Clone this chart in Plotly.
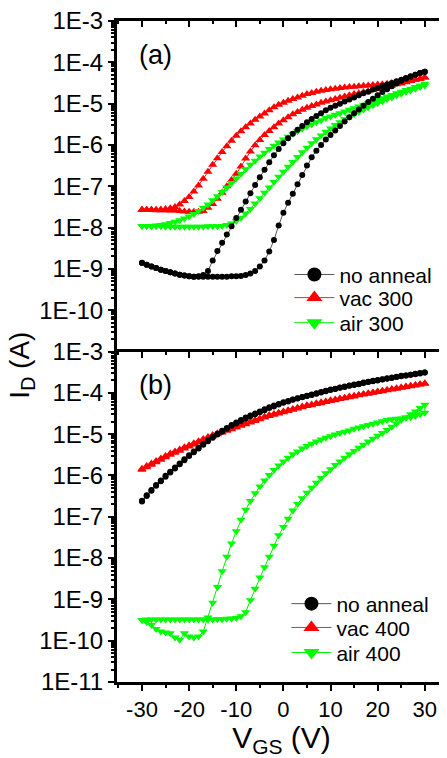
import numpy as np
import plotly.graph_objects as go

# Gate voltage sweep (V): forward -30 -> 30, then reverse 30 -> -30
VGS_FWD = [-30, -29, -28, -27, -26, -25, -24, -23, -22, -21,
           -20, -19, -18, -17, -16, -15, -14, -13, -12, -11,
           -10, -9, -8, -7, -6, -5, -4, -3, -2, -1,
           0, 1, 2, 3, 4, 5, 6, 7, 8, 9,
           10, 11, 12, 13, 14, 15, 16, 17, 18, 19,
           20, 21, 22, 23, 24, 25, 26, 27, 28, 29,
           30]
VGS_REV = VGS_FWD[::-1]

# log10(I_D / A)
# ---- panel (a) ----
A_NOANNEAL_FWD = [-8.85, -8.90, -8.94, -8.98, -9.02, -9.05, -9.08, -9.11, -9.14, -9.16,
                  -9.18, -9.19, -9.19, -9.19, -9.19, -9.19, -9.19, -9.19, -9.19, -9.18,
                  -9.18, -9.17, -9.15, -9.11, -9.05, -8.94, -8.80, -8.58, -8.30, -7.95,
                  -7.64, -7.40, -7.18, -6.95, -6.73, -6.50, -6.30, -6.14, -6.00, -5.87,
                  -5.76, -5.65, -5.54, -5.43, -5.33, -5.23, -5.14, -5.05, -4.96, -4.88,
                  -4.80, -4.72, -4.65, -4.58, -4.51, -4.45, -4.40, -4.35, -4.30, -4.26,
                  -4.23]
A_NOANNEAL_REV = [-4.23, -4.26, -4.30, -4.34, -4.38, -4.42, -4.46, -4.50, -4.54, -4.58,
                  -4.62, -4.66, -4.71, -4.75, -4.80, -4.85, -4.90, -4.95, -5.00, -5.05,
                  -5.10, -5.16, -5.23, -5.30, -5.37, -5.45, -5.54, -5.63, -5.73, -5.84,
                  -5.96, -6.10, -6.25, -6.42, -6.60, -6.78, -6.97, -7.17, -7.37, -7.57,
                  -7.77, -7.97, -8.17, -8.37, -8.57, -8.80, -9.05, -9.15, -9.18, -9.19,
                  -9.18, -9.16, -9.14, -9.11, -9.08, -9.05, -9.02, -8.98, -8.94, -8.90,
                  -8.86]
A_VAC300_FWD = [-7.57, -7.57, -7.57, -7.58, -7.58, -7.58, -7.59, -7.59, -7.60, -7.61,
                -7.62, -7.62, -7.62, -7.60, -7.52, -7.43, -7.30, -7.16, -7.00, -6.85,
                -6.70, -6.52, -6.33, -6.16, -6.01, -5.88, -5.76, -5.66, -5.57, -5.48,
                -5.40, -5.33, -5.26, -5.20, -5.15, -5.10, -5.06, -5.02, -4.98, -4.95,
                -4.92, -4.89, -4.86, -4.83, -4.80, -4.77, -4.75, -4.72, -4.70, -4.67,
                -4.64, -4.62, -4.59, -4.56, -4.53, -4.51, -4.48, -4.45, -4.42, -4.40,
                -4.37]
A_VAC300_REV = [-4.37, -4.40, -4.42, -4.44, -4.46, -4.48, -4.49, -4.50, -4.52, -4.53,
                -4.54, -4.55, -4.56, -4.57, -4.58, -4.59, -4.60, -4.61, -4.62, -4.64,
                -4.65, -4.67, -4.69, -4.71, -4.74, -4.77, -4.81, -4.85, -4.89, -4.93,
                -4.98, -5.03, -5.09, -5.16, -5.24, -5.31, -5.39, -5.48, -5.57, -5.67,
                -5.78, -5.90, -6.03, -6.17, -6.32, -6.48, -6.65, -6.82, -6.98, -7.13,
                -7.26, -7.36, -7.44, -7.50, -7.53, -7.55, -7.56, -7.57, -7.57, -7.57,
                -7.57]
A_AIR300_FWD = [-7.96, -7.96, -7.97, -7.97, -7.97, -7.98, -7.98, -7.98, -7.98, -7.98,
                -7.98, -7.98, -7.98, -7.98, -7.97, -7.97, -7.97, -7.96, -7.94, -7.90,
                -7.84, -7.76, -7.66, -7.55, -7.42, -7.29, -7.16, -7.03, -6.90, -6.77,
                -6.65, -6.53, -6.41, -6.29, -6.18, -6.07, -5.96, -5.86, -5.77, -5.68,
                -5.60, -5.52, -5.45, -5.38, -5.32, -5.26, -5.20, -5.14, -5.09, -5.04,
                -4.99, -4.94, -4.89, -4.85, -4.80, -4.76, -4.72, -4.68, -4.64, -4.60,
                -4.56]
A_AIR300_REV = [-4.52, -4.56, -4.60, -4.64, -4.67, -4.71, -4.75, -4.79, -4.83, -4.87,
                -4.91, -4.95, -4.99, -5.03, -5.07, -5.11, -5.15, -5.19, -5.23, -5.27,
                -5.31, -5.35, -5.40, -5.45, -5.50, -5.55, -5.61, -5.67, -5.73, -5.80,
                -5.87, -5.94, -6.02, -6.10, -6.19, -6.28, -6.38, -6.48, -6.59, -6.70,
                -6.81, -6.92, -7.03, -7.14, -7.24, -7.34, -7.44, -7.52, -7.60, -7.67,
                -7.73, -7.78, -7.82, -7.86, -7.89, -7.92, -7.94, -7.95, -7.96, -7.96,
                -7.96]
# ---- panel (b) ----
B_NOANNEAL_FWD = [-6.63, -6.50, -6.37, -6.25, -6.14, -6.03, -5.93, -5.83, -5.73, -5.63,
                  -5.53, -5.44, -5.35, -5.26, -5.17, -5.09, -5.01, -4.94, -4.87, -4.80,
                  -4.74, -4.68, -4.62, -4.57, -4.52, -4.47, -4.42, -4.37, -4.33, -4.28,
                  -4.24, -4.21, -4.17, -4.14, -4.11, -4.08, -4.05, -4.02, -3.99, -3.96,
                  -3.93, -3.91, -3.88, -3.86, -3.83, -3.81, -3.79, -3.76, -3.74, -3.72,
                  -3.70, -3.68, -3.66, -3.64, -3.62, -3.60, -3.58, -3.56, -3.55, -3.53,
                  -3.51]
B_NOANNEAL_REV = [-3.51, -3.52, -3.54, -3.56, -3.58, -3.59, -3.61, -3.63, -3.65, -3.67,
                  -3.69, -3.71, -3.73, -3.75, -3.78, -3.80, -3.82, -3.85, -3.87, -3.90,
                  -3.92, -3.95, -3.98, -4.01, -4.04, -4.07, -4.10, -4.13, -4.16, -4.20,
                  -4.23, -4.27, -4.31, -4.35, -4.40, -4.45, -4.50, -4.55, -4.60, -4.66,
                  -4.72, -4.78, -4.85, -4.92, -4.99, -5.07, -5.15, -5.24, -5.33, -5.42,
                  -5.51, -5.61, -5.71, -5.81, -5.91, -6.01, -6.12, -6.23, -6.35, -6.48,
                  -6.61]
B_VAC400_FWD = [-5.86, -5.80, -5.74, -5.68, -5.62, -5.56, -5.50, -5.45, -5.40, -5.35,
                -5.30, -5.25, -5.20, -5.15, -5.10, -5.05, -5.00, -4.96, -4.92, -4.88,
                -4.84, -4.80, -4.76, -4.72, -4.68, -4.64, -4.60, -4.56, -4.53, -4.50,
                -4.47, -4.44, -4.41, -4.38, -4.35, -4.32, -4.30, -4.27, -4.25, -4.22,
                -4.20, -4.18, -4.15, -4.13, -4.11, -4.09, -4.06, -4.04, -4.02, -4.00,
                -3.98, -3.96, -3.94, -3.92, -3.90, -3.88, -3.86, -3.84, -3.82, -3.80,
                -3.78]
B_VAC400_REV = [-3.77, -3.79, -3.81, -3.83, -3.85, -3.87, -3.89, -3.91, -3.93, -3.95,
                -3.97, -3.99, -4.01, -4.03, -4.05, -4.07, -4.09, -4.12, -4.14, -4.16,
                -4.18, -4.21, -4.23, -4.25, -4.28, -4.30, -4.33, -4.36, -4.39, -4.42,
                -4.45, -4.48, -4.51, -4.54, -4.58, -4.62, -4.66, -4.70, -4.74, -4.78,
                -4.82, -4.86, -4.90, -4.94, -4.98, -5.02, -5.07, -5.12, -5.17, -5.22,
                -5.27, -5.32, -5.37, -5.42, -5.47, -5.53, -5.59, -5.65, -5.71, -5.77,
                -5.84]
B_AIR400_FWD = [-9.50, -9.49, -9.49, -9.49, -9.49, -9.49, -9.49, -9.49, -9.49, -9.49,
                -9.49, -9.49, -9.49, -9.49, -9.49, -9.49, -9.48, -9.48, -9.47, -9.46,
                -9.45, -9.41, -9.31, -9.02, -8.74, -8.47, -8.22, -7.97, -7.70, -7.45,
                -7.25, -7.05, -6.85, -6.69, -6.55, -6.42, -6.30, -6.18, -6.06, -5.95,
                -5.85, -5.75, -5.66, -5.57, -5.49, -5.41, -5.33, -5.26, -5.18, -5.11,
                -5.04, -4.97, -4.90, -4.82, -4.74, -4.66, -4.59, -4.52, -4.45, -4.37,
                -4.29]
B_AIR400_REV = [-4.48, -4.52, -4.56, -4.59, -4.61, -4.62, -4.63, -4.64, -4.66, -4.69,
                -4.72, -4.75, -4.78, -4.81, -4.84, -4.87, -4.91, -4.94, -4.97, -5.01,
                -5.05, -5.09, -5.13, -5.18, -5.23, -5.29, -5.35, -5.42, -5.49, -5.57,
                -5.66, -5.76, -5.87, -5.99, -6.12, -6.27, -6.43, -6.62, -6.83, -7.07,
                -7.35, -7.65, -7.97, -8.32, -8.70, -9.08, -9.44, -9.78, -9.90, -9.92,
                -9.90, -9.82, -9.98, -9.92, -9.82, -9.80, -9.78, -9.72, -9.62, -9.55,
                -9.50]

LEGEND_A = ["no anneal", "vac 300", "air 300"]
LEGEND_B = ["no anneal", "vac 400", "air 400"]

X_TICKS = [-30, -20, -10, 0, 10, 20, 30]
X_TICKTEXT = ["-30", "-20", "-10", "0", "10", "20", "30"]
X_MINOR = [-35, -25, -15, -5, 5, 15, 25]
Y_TICKS_A = [1e-3, 1e-4, 1e-5, 1e-6, 1e-7, 1e-8, 1e-9, 1e-10]
Y_TEXT_A = ["1E-3", "1E-4", "1E-5", "1E-6", "1E-7", "1E-8", "1E-9", "1E-10"]
Y_TICKS_B = [1e-3, 1e-4, 1e-5, 1e-6, 1e-7, 1e-8, 1e-9, 1e-10, 1e-11]
Y_TEXT_B = ["1E-3", "1E-4", "1E-5", "1E-6", "1E-7", "1E-8", "1E-9", "1E-10", "1E-11"]

for arr in [A_NOANNEAL_FWD, A_NOANNEAL_REV, A_VAC300_FWD, A_VAC300_REV, A_AIR300_FWD,
            A_AIR300_REV, B_NOANNEAL_FWD, B_NOANNEAL_REV, B_VAC400_FWD, B_VAC400_REV,
            B_AIR400_FWD, B_AIR400_REV]:
    assert len(arr) == 61

BLACK, RED, GREEN = "#000000", "#ff0000", "#00ff00"
STYLES = {
    "black": dict(color=BLACK, line="#555555", symbol="circle", size=6),
    "red": dict(color=RED, line="#ff2020", symbol="triangle-up", size=8),
    "green": dict(color=GREEN, line="#00ee00", symbol="triangle-down", size=8),
}

fig = go.Figure()


def add_series(fwd, rev, style, xa, ya):
    st = STYLES[style]
    fig.add_trace(go.Scatter(
        x=VGS_FWD + VGS_REV, y=np.power(10.0, np.array(fwd + rev)),
        mode="lines+markers", showlegend=False, hoverinfo="skip",
        line=dict(color=st["line"], width=1),
        marker=dict(symbol=st["symbol"], color=st["color"], size=st["size"], line=dict(width=0)),
        xaxis=xa, yaxis=ya))


add_series(A_VAC300_FWD, A_VAC300_REV, "red", "x", "y")
add_series(A_AIR300_FWD, A_AIR300_REV, "green", "x", "y")
add_series(A_NOANNEAL_FWD, A_NOANNEAL_REV, "black", "x", "y")
add_series(B_VAC400_FWD, B_VAC400_REV, "red", "x2", "y2")
add_series(B_AIR400_FWD, B_AIR400_REV, "green", "x2", "y2")
add_series(B_NOANNEAL_FWD, B_NOANNEAL_REV, "black", "x2", "y2")

# legend entries: one legend box per entry so each row can be placed exactly
LEG_Y = [0.616, 0.581, 0.543, 0.118, 0.082, 0.044]
LEG_X = [0.524, 0.524, 0.524, 0.515, 0.515, 0.515]
legend_layout = {}
entries = [(n, s, "x", "y") for n, s in zip(LEGEND_A, ["black", "red", "green"])] + \
          [(n, s, "x2", "y2") for n, s in zip(LEGEND_B, ["black", "red", "green"])]
for i, (name, style, xa, ya) in enumerate(entries):
    key = "legend" if i == 0 else "legend%d" % (i + 1)
    st = STYLES[style]
    fig.add_trace(go.Scatter(
        x=[None], y=[None], name=name, mode="lines+markers", legend=key,
        line=dict(color=st["line"], width=1),
        marker=dict(symbol=st["symbol"], color=st["color"], size=14, line=dict(width=0)),
        xaxis=xa, yaxis=ya))
    legend_layout[key] = dict(x=LEG_X[i], y=LEG_Y[i], xanchor="left", yanchor="middle",
                              bgcolor="rgba(0,0,0,0)", font=dict(size=21), itemwidth=40)

# invisible anchors so overlay axes get drawn
for xa, ya in [("x3", "y2"), ("x", "y3"), ("x2", "y4")]:
    fig.add_trace(go.Scatter(x=[0], y=[1e-5], mode="markers", marker=dict(opacity=0),
                             showlegend=False, hoverinfo="skip", xaxis=xa, yaxis=ya))

XR = [-35.3, 34.5]
YR = [-11, -3]
Y_MINOR = [k * 10.0 ** e for e in range(-11, -3) for k in range(2, 10)]
base = dict(showline=True, linecolor="black", linewidth=3, tickcolor="black", tickwidth=2,
            showgrid=False, zeroline=False, automargin=False, ticklabeloverflow="allow")


def xax(**kw):
    d = dict(base, range=XR, tickmode="array", tickvals=X_TICKS, ticktext=X_TICKTEXT, ticklen=6)
    d.update(kw)
    return d


def yax(**kw):
    d = dict(base, type="log", range=YR, tickmode="array", ticklen=6)
    d.update(kw)
    return d


def minor(side):
    return dict(tickmode="array", tickvals=None, ticks=side, ticklen=3, tickwidth=2,
                tickcolor="black")


mx_in = dict(minor("inside"), tickvals=X_MINOR)
mx_out = dict(minor("outside"), tickvals=X_MINOR)
my_in = dict(minor("inside"), tickvals=Y_MINOR)
my_out = dict(minor("outside"), tickvals=Y_MINOR)

# the page body adds an 8 px offset, so the figure is 8 px smaller and margins shifted
fig.update_layout(
    width=439, height=750,
    margin=dict(l=109, r=1, t=13, b=76, autoexpand=False),
    plot_bgcolor="white", paper_bgcolor="white",
    font=dict(family="Arial, 'Liberation Sans', sans-serif", size=21, color="black"),
    xaxis=xax(domain=[0, 1], anchor="y", side="top", ticks="inside", showticklabels=False,
              minor=mx_in),
    xaxis2=xax(domain=[0, 1], anchor="y2", side="bottom", ticks="outside",
               tickfont=dict(size=22), minor=mx_out,
               title=dict(text="V<sub>GS</sub> (V)", font=dict(size=30), standoff=10)),
    xaxis3=xax(overlaying="x2", anchor="y2", side="top", ticks="inside", showticklabels=False,
               minor=mx_in),
    yaxis=yax(domain=[0.5, 1], anchor="x", side="left", ticks="outside",
              tickvals=Y_TICKS_A, ticktext=Y_TEXT_A, tickfont=dict(size=24), minor=my_out),
    yaxis2=yax(domain=[0, 0.5], anchor="x2", side="left", ticks="outside",
               tickvals=Y_TICKS_B, ticktext=Y_TEXT_B, tickfont=dict(size=24), minor=my_out),
    yaxis3=yax(overlaying="y", anchor="x", side="right", ticks="inside", showticklabels=False,
               tickvals=Y_TICKS_A, minor=my_in),
    yaxis4=yax(overlaying="y2", anchor="x2", side="right", ticks="inside", showticklabels=False,
               tickvals=Y_TICKS_B, minor=my_in),
    annotations=[
        dict(text="(a)", x=0.06, y=0.949, xref="paper", yref="paper", xanchor="left",
             yanchor="middle", showarrow=False, font=dict(size=27)),
        dict(text="(b)", x=0.06, y=0.449, xref="paper", yref="paper", xanchor="left",
             yanchor="middle", showarrow=False, font=dict(size=27)),
        dict(text="I<sub>D</sub> (A)", x=-0.289, y=0.48, xref="paper", yref="paper",
             xanchor="center", yanchor="middle", textangle=-90, showarrow=False,
             font=dict(size=28)),
    ],
    **legend_layout,
)

fig.write_html("out.html")
